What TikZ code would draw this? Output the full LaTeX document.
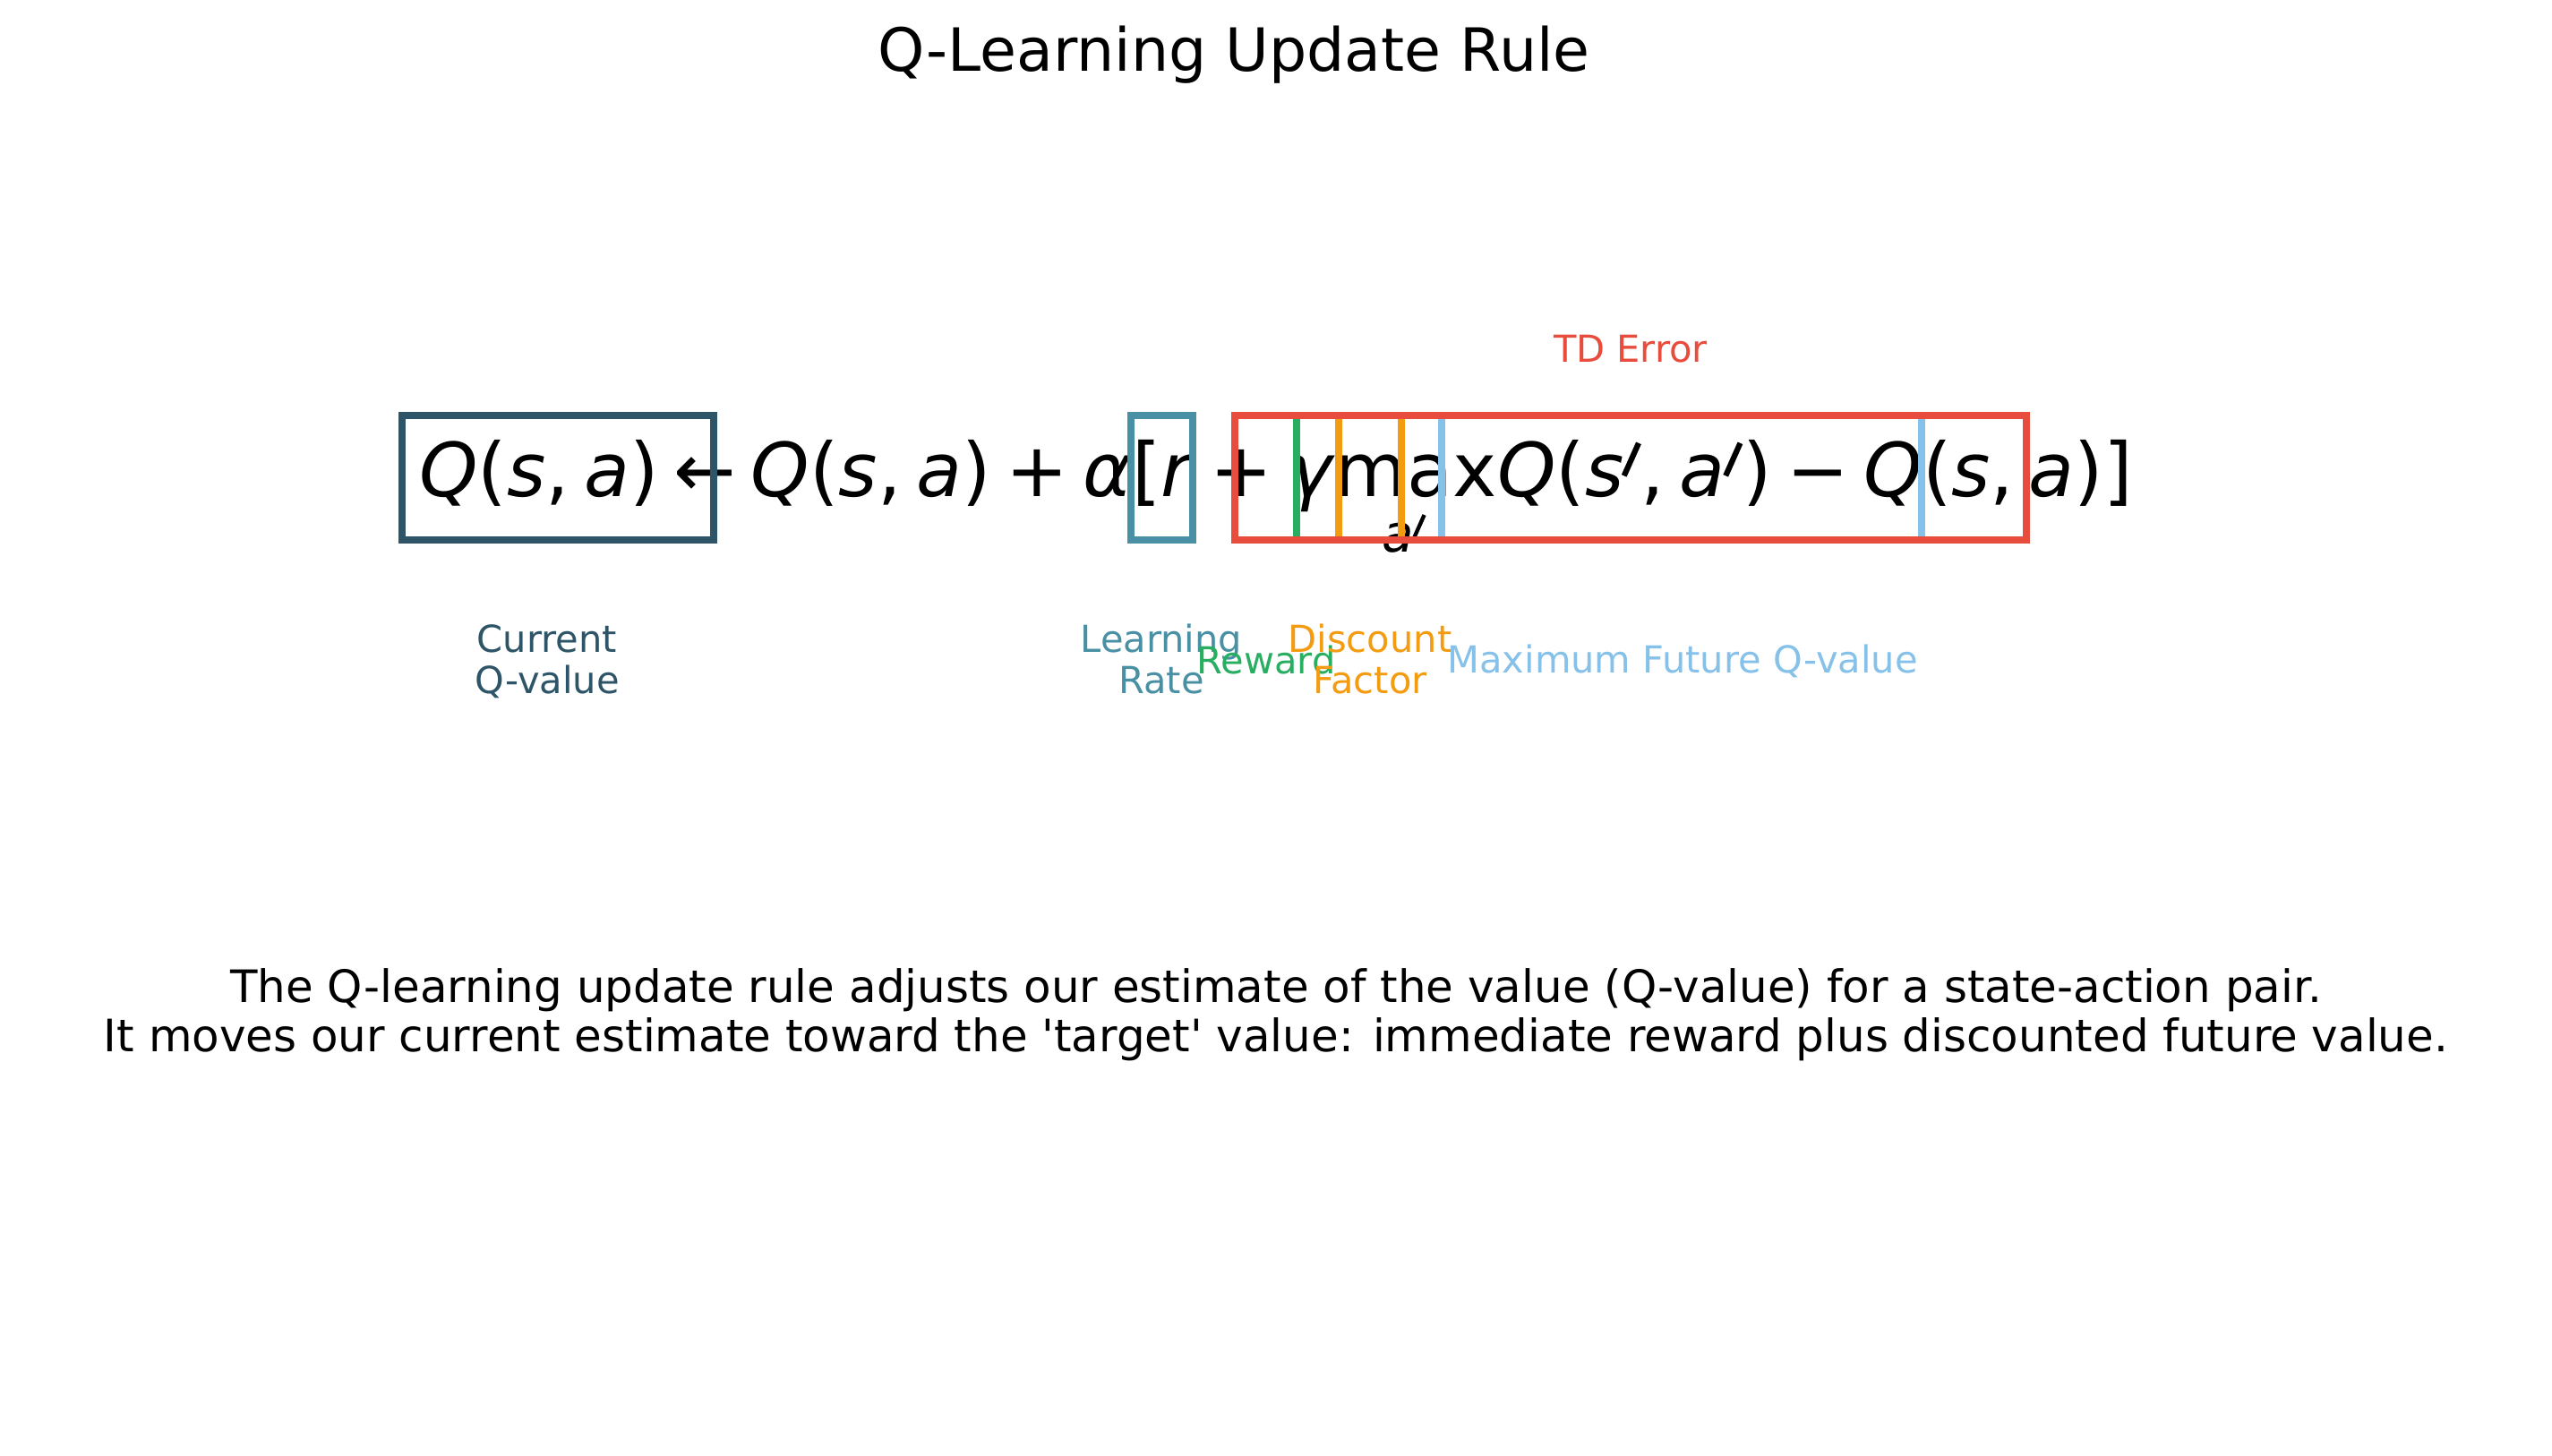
\documentclass[tikz,border=0pt]{standalone}
\usepackage{fontspec}
\usepackage{graphicx}
\newfontfamily\djv{DejaVu Sans}
\definecolor{qdark}{HTML}{2E5468}
\definecolor{qteal}{HTML}{4A90A4}
\definecolor{qred}{HTML}{E74C3C}
\definecolor{qgreen}{HTML}{27AE60}
\definecolor{qorange}{HTML}{F39C12}
\definecolor{qsky}{HTML}{85C1E9}
\newcommand{\fsz}[2]{\djv\fontsize{#1}{#2}\selectfont}
\newcommand{\iv}[1]{\textit{#1}}
\newcommand{\cm}{,\hspace{0.2em}}
\newcommand{\prm}{\kern-0.03em\raisebox{0.3em}{\rotatebox{-24}{\rule{0.075em}{0.48em}}}}
\newcommand{\opgap}{\hspace{0.2em}}
\newcommand{\termbox}[3]{\draw[#1, line width=2.37pt] (#2,10.23) rectangle (#3,11.62);}

\begin{document}
\begin{tikzpicture}[x=1cm, y=1cm,
  lbl/.style={font=\fsz{11.83}{13.1}, align=center, anchor=base, inner sep=0pt}]

  \useasboundingbox (0,0) rectangle (28.50,16.26);

  \node[anchor=base, inner sep=0pt, font=\fsz{18.93}{22}] (title) at (13.78,15.46) {Q-Learning Update Rule};

  % the update rule itself
  \node[anchor=base, inner sep=0pt, font=\fsz{23.66}{28}] (rule) at (14.25,10.71)
    {\iv{Q}(\iv{s}\cm\iv{a})\opgap←\opgap\iv{Q}(\iv{s}\cm\iv{a})\opgap+\opgap\iv{α}[\iv{r}\opgap+\opgap\iv{γ}max\iv{Q}(\iv{s}\prm\cm\iv{a}\prm)\opgap−\opgap\iv{Q}(\iv{s}\cm\iv{a})]};
  \node[anchor=base, inner sep=0pt, font=\fsz{16.5}{20}] (maxsub) at (15.68,10.09) {\iv{a}\prm};

  \termbox{qdark}{4.49}{7.97}
  \termbox{qteal}{12.63}{13.32}
  \termbox{qgreen}{13.79}{14.48}
  \termbox{qorange}{14.95}{15.65}
  \termbox{qsky}{16.10}{21.46}
  \termbox{qred}{13.79}{22.63}

  % labels (two-line ones sit on their last baseline)
  \node[lbl, qred] (tdlbl) at (18.21,12.21) {TD Error};
  \node[lbl, qdark] (curlbl) at (6.11,8.51) {Current\\Q-value};
  \node[lbl, qteal] (ratelbl) at (12.97,8.51) {Learning\\Rate};
  \node[lbl, qgreen] (rewlbl) at (14.14,8.73) {Reward};
  \node[lbl, qorange] (disclbl) at (15.30,8.51) {Discount\\Factor};
  \node[lbl, qsky] (maxlbl) at (18.79,8.74) {Maximum Future Q-value};

  \node[anchor=base, align=center, inner sep=0pt, font=\fsz{14.2}{15.65}] (note) at (14.25,4.51)
    {The Q-learning update rule adjusts our estimate of the value (Q-value) for a state-action pair.\\It moves our current estimate toward the 'target' value: immediate reward plus discounted future value.};

\end{tikzpicture}
\end{document}
